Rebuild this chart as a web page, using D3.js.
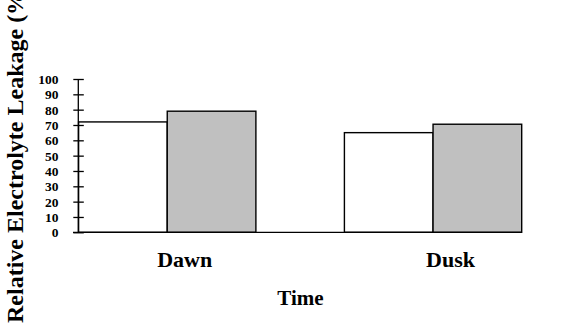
<!DOCTYPE html>
<html>
<head>
<meta charset="utf-8">
<script src="https://cdn.jsdelivr.net/npm/d3@7"></script>
<style>
  html, body { margin: 0; padding: 0; background: #fff; }
  svg { display: block; }
  text { font-family: "Liberation Serif", "Times New Roman", serif; font-weight: bold; fill: #000; }
</style>
</head>
<body>
<svg id="chart" width="562" height="330"></svg>
<script>
const categories = ["Dawn", "Dusk"];
const series = ["Control", "Treatment"];
const controlValues = [72, 65];
const treatmentValues = [79, 70.5];
const yTicks = [0, 10, 20, 30, 40, 50, 60, 70, 80, 90, 100];
const yLabel = "Relative Electrolyte Leakage (%)";
const xLabel = "Time";

const svg = d3.select("#chart");
svg.append("rect").attr("width", 562).attr("height", 330).attr("fill", "#fff");

const y = d3.scaleLinear().domain([0, 100]).range([232.3, 79]);
const x0 = d3.scaleBand().domain(categories).range([78.6, 521.7]).paddingInner(0.333).paddingOuter(0);
const x1 = d3.scaleBand().domain(series).range([0, x0.bandwidth()]).padding(0);
const fills = { Control: "#ffffff", Treatment: "#c0c0c0" };

const data = categories.map((c, i) => ({
  cat: c,
  vals: [{ s: "Control", v: controlValues[i] }, { s: "Treatment", v: treatmentValues[i] }]
}));

// bars
const g = svg.append("g");
g.selectAll("g.grp").data(data).join("g")
  .attr("class", "grp")
  .attr("transform", d => `translate(${x0(d.cat)},0)`)
  .selectAll("rect").data(d => d.vals).join("rect")
  .attr("x", d => x1(d.s))
  .attr("y", d => y(d.v))
  .attr("width", x1.bandwidth())
  .attr("height", d => y(0) - y(d.v))
  .attr("fill", d => fills[d.s])
  .attr("stroke", "#000")
  .attr("stroke-width", 1.4);

// y axis
const axisX = 78.3;
const yAxis = d3.axisLeft(y).tickValues(yTicks).tickSize(0).tickPadding(0);
const ya = svg.append("g").attr("transform", `translate(${axisX},0)`).call(yAxis);
ya.select(".domain").remove();
ya.selectAll(".tick text").remove();
ya.selectAll(".tick").append("line")
  .attr("x1", -5).attr("x2", 5.5)
  .attr("stroke", "#000").attr("stroke-width", 1.3);
ya.selectAll(".tick").append("text")
  .attr("x", -19.8).attr("dy", "0.34em")
  .attr("text-anchor", "end")
  .style("font-size", "13.5px")
  .text(d => d);
svg.append("line")
  .attr("x1", axisX).attr("x2", axisX)
  .attr("y1", y(100)).attr("y2", y(0))
  .attr("stroke", "#000").attr("stroke-width", 1.3);
// baseline
svg.append("line")
  .attr("x1", 73).attr("x2", x0.range()[1])
  .attr("y1", y(0)).attr("y2", y(0))
  .attr("stroke", "#000").attr("stroke-width", 1.3);

// category labels
svg.selectAll("text.cat").data(categories).join("text")
  .attr("class", "cat")
  .attr("x", d => x0(d) + x0.bandwidth() / 2 + 17.5)
  .attr("y", 266.5)
  .attr("text-anchor", "middle")
  .style("font-size", "22px")
  .text(d => d);

svg.append("text")
  .attr("x", 300.5).attr("y", 305)
  .attr("text-anchor", "middle")
  .style("font-size", "21px")
  .text(xLabel);

svg.append("text")
  .attr("transform", "translate(23,323) rotate(-90)")
  .attr("text-anchor", "start")
  .style("font-size", "24px")
  .text(yLabel);
</script>
</body>
</html>
